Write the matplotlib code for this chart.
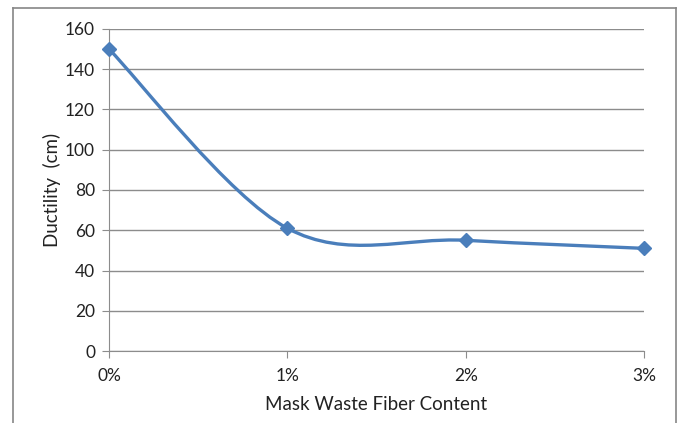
import matplotlib.pyplot as plt
import numpy as np
from matplotlib.path import Path
from matplotlib.patches import PathPatch
from matplotlib.lines import Line2D

# fiber content (%) and measured ductility (cm)
fiber_pct = [0, 1, 2, 3]
ductility = [150, 61, 55, 51]
x_labels = ["0%", "1%", "2%", "3%"]
y_ticks = [0, 20, 40, 60, 80, 100, 120, 140, 160]

line_color = "#4A7EBB"
grid_color = "#8C8C8C"
plt.rcParams['font.family'] = ['Lato', 'DejaVu Sans']

W, H = 680, 423
fig = plt.figure(figsize=(6.8, 4.23), dpi=100)
ax = fig.add_axes([109 / W, 72 / H, 535 / W, 322 / H])

# outer chart frame (runs off the bottom of the figure)
frame = [([13, 13], [8, 430]), ([13, 676], [8, 8]), ([676, 676], [8, 430])]
for xs, ys in frame:
    fig.add_artist(Line2D([x / W for x in xs], [1 - y / H for y in ys],
                          color="#868686", lw=1.2, transform=fig.transFigure))

# smoothed line: Catmull-Rom style bezier segments through the points
pts = np.column_stack([fiber_pct, ductility]).astype(float)
ext = np.vstack([pts[0], pts, pts[-1]])
verts = [pts[0]]
codes = [Path.MOVETO]
for i in range(len(pts) - 1):
    p0, p1, p2, p3 = ext[i], ext[i + 1], ext[i + 2], ext[i + 3]
    c1 = p1 + (p2 - p0) / 6
    c2 = p2 - (p3 - p1) / 6
    verts += [c1, c2, p2]
    codes += [Path.CURVE4] * 3
ax.add_patch(PathPatch(Path(verts, codes), fill=False, edgecolor=line_color,
                       lw=2.4, capstyle='round', zorder=3))
ax.plot(fiber_pct, ductility, linestyle='none', marker='D', markersize=7.5,
        color=line_color, zorder=4, clip_on=False)

ax.set_xlim(0, 3)
ax.set_ylim(0, 160)
ax.set_yticks(y_ticks)
ax.set_xticks(fiber_pct)
ax.set_xticklabels(x_labels)
ax.yaxis.grid(True, color=grid_color, lw=1)
ax.set_axisbelow(True)

for s in ["top", "right"]:
    ax.spines[s].set_visible(False)
for s in ["left", "bottom"]:
    ax.spines[s].set_color(grid_color)
ax.tick_params(axis='both', colors=grid_color, length=5, labelcolor='#222222',
               labelsize=12.5)
ax.tick_params(axis='x', pad=7)
ax.tick_params(axis='y', pad=5)

ax.set_xlabel("Mask Waste Fiber Content", fontsize=13.5, labelpad=9,
              color='#222222')
ax.set_ylabel("Ductility  (cm)", fontsize=13.5, labelpad=3, color='#222222')

fig.savefig("out.png", dpi=100)
